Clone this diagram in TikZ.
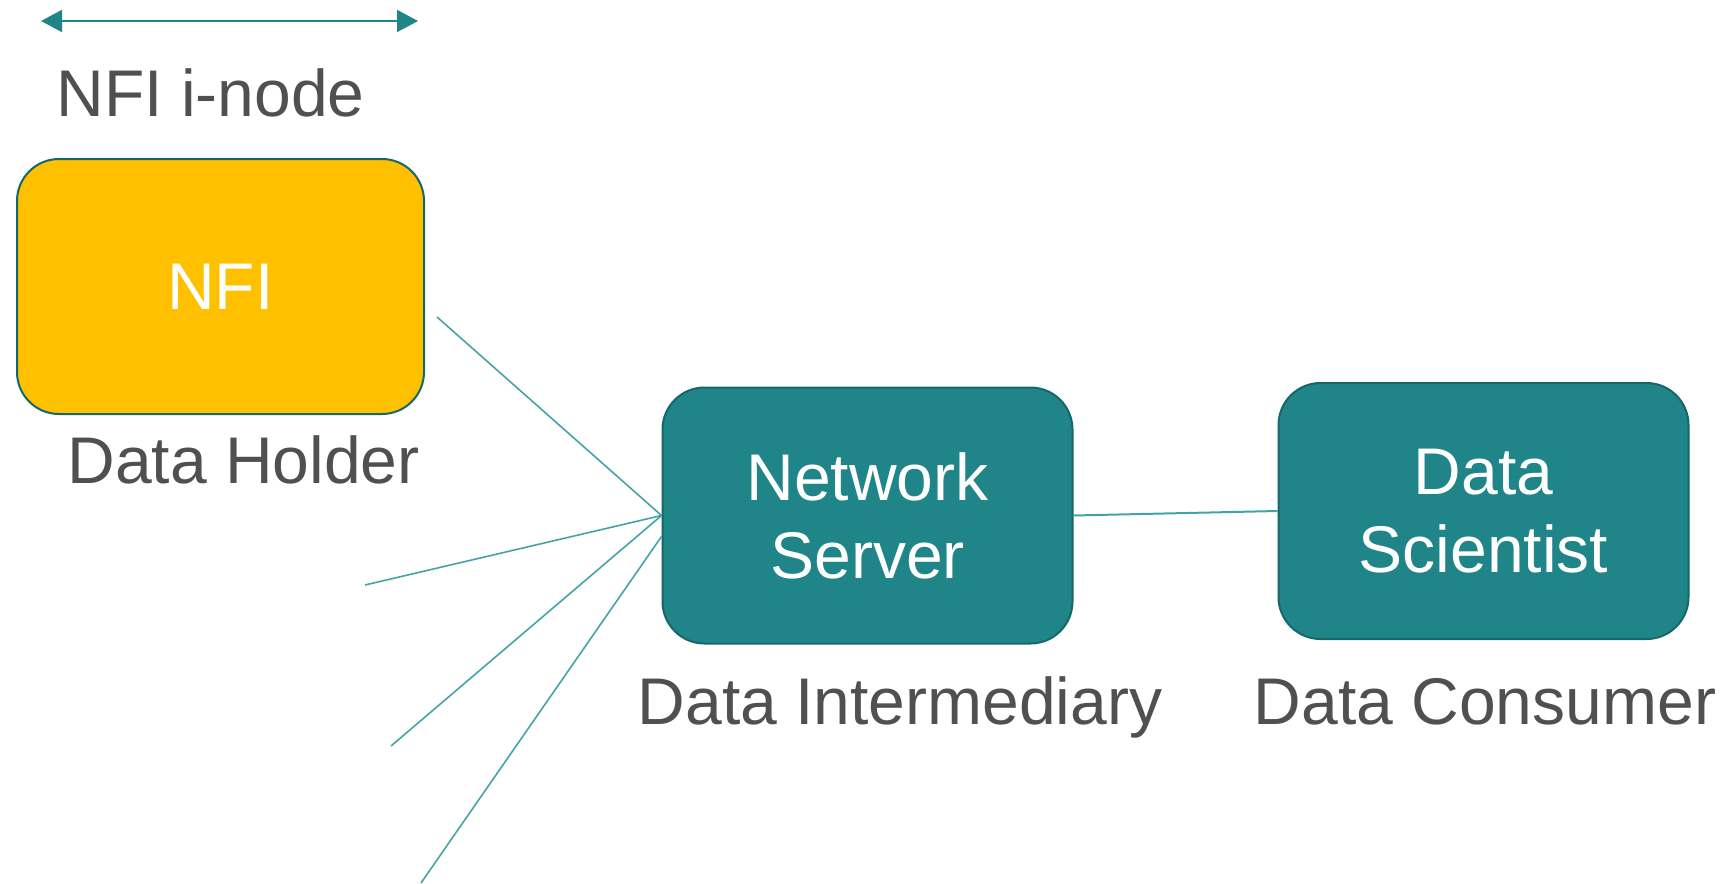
\documentclass[tikz,border=0pt]{standalone}
\usepackage{fontspec}
\setmainfont{Liberation Sans}
\usetikzlibrary{arrows.meta}
\definecolor{tealfill}{HTML}{1F8588}
\definecolor{tealdark}{HTML}{16676A}
\definecolor{tealline}{HTML}{45A3A6}
\definecolor{goldfill}{HTML}{FFC000}
\definecolor{labelgray}{HTML}{505050}
\tikzset{
  boxbase/.style={rounded corners=21pt, draw=tealdark, line width=1pt,
    minimum width=205pt, minimum height=128pt, inner sep=0pt,
    align=center, text=white, font=\fontsize{33}{39}\selectfont},
  holderbox/.style={boxbase, fill=goldfill, minimum width=203.5pt, minimum height=127.5pt},
  actorbox/.style={boxbase, fill=tealfill},
  rolelabel/.style={anchor=base, text=labelgray, inner sep=0pt, font=\fontsize{33}{39}\selectfont},
  spoke/.style={draw=tealline, line width=0.8pt},
  linkline/.style={draw=tealline, line width=1pt},
  spanarrow/.style={draw=tealfill, line width=1pt,
    {Triangle[length=10.5pt,width=11pt]}-{Triangle[length=10.5pt,width=11pt]}}
}
\begin{document}
\begin{tikzpicture}[x=0.5pt,y=-0.5pt]
\useasboundingbox (0,0) rectangle (1722,883);
% span arrow
\coordinate (al) at (41,21);
\coordinate (ar) at (418,21);
\draw[spanarrow] (al) -- (ar);
\node[rolelabel] (inode) at (210.5,117) {NFI i-node};
% boxes
\node[holderbox] (nfi) at (220.5,286.5) {NFI};
\node[actorbox] (ns) at (867.5,515.5) {Network\\Server};
\node[actorbox] (ds) at (1483.5,511) {Data\\Scientist};
% labels
\node[rolelabel] (holder) at (243.5,483) {Data Holder};
\node[rolelabel] (inter) at (900,724) {Data Intermediary};
\node[rolelabel] (consumer) at (1485,724) {Data Consumer};
% spokes
\coordinate (s1) at (437,317);
\coordinate (s2) at (365,585);
\coordinate (s3) at (391,746);
\coordinate (s4) at (421,883);
\draw[spoke] (s1) -- (ns.west);
\draw[spoke] (s2) -- (ns.west);
\draw[spoke] (s3) -- (ns.west);
\draw[spoke] (s4) -- ([yshift=-10.5pt]ns.west);
\draw[linkline] (ns.east) -- (ds.west);
\end{tikzpicture}
\end{document}
